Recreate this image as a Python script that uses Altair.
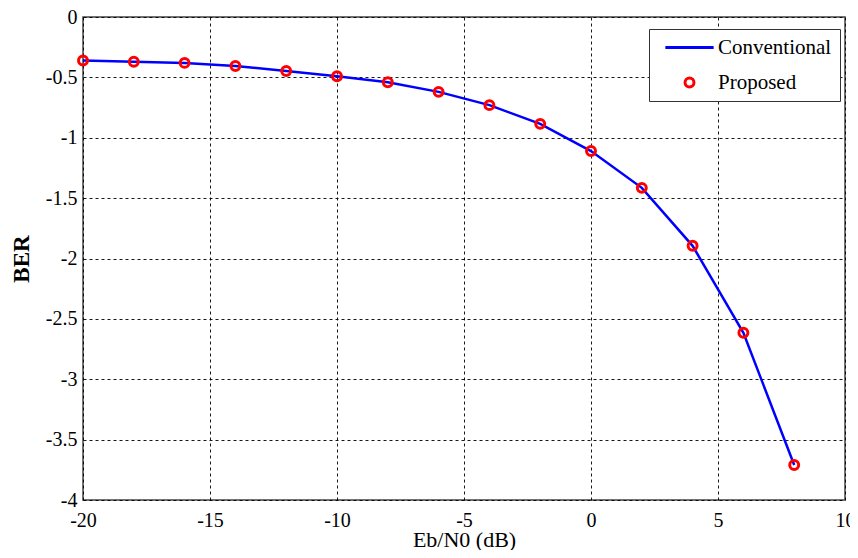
import altair as alt
import pandas as pd

snr_db = [-20, -18, -16, -14, -12, -10, -8, -6, -4, -2, 0, 2, 4, 6, 8]
ber_conventional = [-0.36, -0.37, -0.38, -0.405, -0.447, -0.49, -0.54, -0.62, -0.73, -0.885, -1.11, -1.415, -1.895, -2.615, -3.71]
ber_proposed = [-0.36, -0.37, -0.38, -0.405, -0.447, -0.49, -0.54, -0.62, -0.73, -0.885, -1.11, -1.415, -1.895, -2.615, -3.71]
series_names = ["Conventional", "Proposed"]
x_ticks = [-20, -15, -10, -5, 0, 5, 10]
y_ticks = [0, -0.5, -1, -1.5, -2, -2.5, -3, -3.5, -4]

df_line = pd.DataFrame({"x": snr_db, "y": ber_conventional, "series": series_names[0]})
df_pts = pd.DataFrame({"x": snr_db, "y": ber_proposed, "series": series_names[1]})

FONT = "Liberation Serif"

x_enc = alt.X("x:Q", scale=alt.Scale(domain=[-20, 10], nice=False),
              axis=alt.Axis(values=x_ticks, title="Eb/N0 (dB)", labelExpr="toString(datum.value)",
                            ticks=False, labelPadding=10, titlePadding=-1, domain=False,
                            grid=True, gridDash=[3, 3], gridColor="#000000", gridOpacity=0.9,
                            labelFontSize=20, titleFontSize=22, titleFontWeight="normal",
                            labelFont=FONT, titleFont=FONT, labelColor="#000", titleColor="#000",
                            labelFlush=False))
y_enc = alt.Y("y:Q", scale=alt.Scale(domain=[-4, 0], nice=False),
              axis=alt.Axis(values=y_ticks, title="BER", labelExpr="toString(datum.value)",
                            ticks=False, labelPadding=6, titlePadding=12, domain=False,
                            grid=True, gridDash=[3, 3], gridColor="#000000", gridOpacity=0.9,
                            labelFontSize=20, titleFontSize=23, titleFontWeight="bold",
                            labelFont=FONT, titleFont=FONT, labelColor="#000", titleColor="#000",
                            labelFlush=False))

legend = alt.Legend(title=None, orient="none", legendX=566, legendY=12,
                    labelFont=FONT, labelFontSize=21, labelColor="#000",
                    strokeColor="#333333", fillColor="#ffffff", padding=8,
                    symbolStrokeWidth=3, symbolSize=80, symbolOffset=22,
                    rowPadding=13, labelOffset=18)

color_scale = alt.Scale(domain=series_names, range=["#0000ff", "#ff0000"])
shape_scale = alt.Scale(domain=series_names, range=["M-5.4,0L5.4,0", "circle"])

line = alt.Chart(df_line).mark_line(strokeWidth=2.5).encode(
    x=x_enc, y=y_enc,
    color=alt.Color("series:N", scale=color_scale, legend=legend),
)

pts = alt.Chart(df_pts).mark_point(filled=False, strokeWidth=3, opacity=1, size=80).encode(
    x="x:Q", y="y:Q",
    color=alt.Color("series:N", scale=color_scale, legend=legend),
    shape=alt.Shape("series:N", scale=shape_scale, legend=legend),
)

chart = alt.layer(line, pts).properties(
    width=762, height=483,
    autosize=alt.AutoSizeParams(type="none"),
    padding={"left": 75, "top": 9, "right": 5, "bottom": 50},
    background="#ffffff",
).configure(font=FONT).configure_view(stroke="#444444", strokeWidth=1.5)

chart.save("out.html", embed_options={"renderer": "svg", "actions": False})
